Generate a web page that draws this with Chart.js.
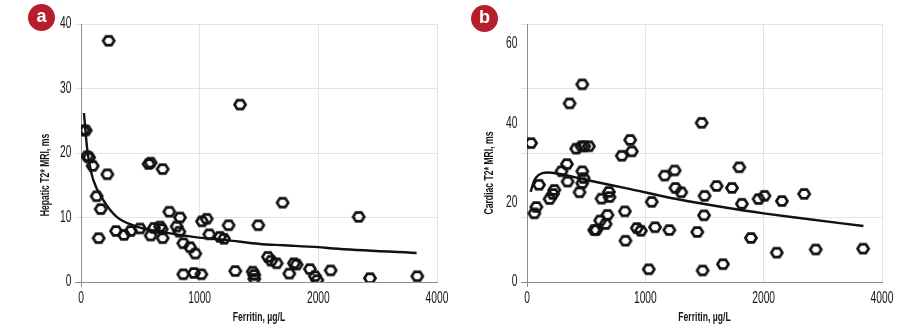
<!DOCTYPE html>
<html>
<head>
<meta charset="utf-8">
<script src="https://cdn.jsdelivr.net/npm/chart.js@4/dist/chart.umd.min.js"></script>
<style>
  html, body { margin: 0; padding: 0; background: #fff; }
  #wrap { position: relative; width: 919px; height: 330px; }
  .panel { position: absolute; top: 0; height: 330px; }
  #panelA { left: 0; width: 460px; }
  #panelB { left: 460px; width: 459px; }
  .badge {
    position: absolute; width: 27px; height: 27px; border-radius: 50%;
    background: #b61e2c; color: #fff; text-align: center;
    font: bold 18px 'Liberation Sans Narrow', 'Liberation Sans', sans-serif;
    line-height: 25px;
  }
</style>
</head>
<body>
<div id="wrap">
  <div class="panel" id="panelA"><canvas id="hepatic"></canvas></div>
  <div class="panel" id="panelB"><canvas id="cardiac"></canvas></div>
  <div class="badge" style="left:28px;top:4px;">a</div>
  <div class="badge" style="left:471px;top:5px;">b</div>
</div>
<script>
// Ferritin axis: 0..2000 linear, 2000..4000 drawn at half scale
const ferritinTicks = [0, 1000, 2000, 4000];

// (a) hepatic T2* vs ferritin
const hepaticFerritin = [233, 1340, 20, 40, 53, 68, 98, 222, 132, 166, 149, 570, 587, 688, 744, 834,
  295, 362, 419, 497, 587, 615, 666, 680, 688, 806, 829, 862, 919, 963, 862, 952, 1014, 1020, 1059,
  1081, 1171, 1205, 1244, 1300, 1447, 1460, 1460, 1494, 1575, 1603, 1649, 1699, 1755, 1794, 1817,
  1929, 1971, 1991, 2208, 2680, 2870, 3668];
const hepaticT2 = [37.4, 27.5, 23.5, 23.5, 19.5, 19.3, 18.0, 16.7, 13.3, 11.3, 6.8, 18.3, 18.5, 17.5, 10.9, 10.0,
  7.9, 7.3, 7.9, 8.3, 7.2, 8.4, 8.6, 8.2, 6.8, 8.6, 7.8, 6.0, 5.4, 4.4, 1.2, 1.4, 1.2, 9.4, 9.8,
  7.4, 7.0, 6.7, 8.8, 1.7, 1.6, 1.1, 0.5, 8.8, 3.9, 3.3, 2.9, 12.3, 1.3, 2.9, 2.7,
  2.0, 0.9, 0.3, 1.8, 10.1, 0.6, 0.9];
const hepaticFitFerritin = [25, 50, 65, 104, 188, 301, 469, 666, 946, 1227, 1508, 1705, 2000, 2252, 3656];
const hepaticFitT2 = [26.2, 21.0, 19.0, 15.8, 12.7, 10.1, 8.6, 7.8, 7.0, 6.5, 5.9, 5.7, 5.4, 5.2, 4.5];
const hepaticTicks = [0, 10, 20, 30, 40];

// (b) cardiac T2* vs ferritin
const cardiacFerritin = [467, 360, 1476, 34, 416, 461, 484, 523, 872, 886, 801, 337, 292, 343, 467, 478,
  467, 444, 101, 79, 62, 231, 219, 191, 692, 697, 630, 680, 664, 618, 568, 585, 827, 832, 928, 962,
  1054, 1082, 1029, 1164, 1248, 1254, 1304, 1203, 1439, 1501, 1496, 1484, 1602, 1656, 1732, 1794,
  1816, 1892, 1957, 2014, 2308, 2222, 2684, 2880, 3680];
const cardiacT2 = [49.8, 45.0, 40.1, 35.0, 33.6, 34.2, 34.2, 34.2, 35.8, 32.9, 31.8, 29.7, 27.9, 25.3, 27.9, 26.2,
  24.9, 22.6, 24.5, 18.9, 17.3, 23.2, 22.2, 20.9, 22.7, 21.4, 21.0, 16.9, 14.6, 15.5, 13.1, 13.1, 17.8, 10.4, 13.6, 12.9,
  20.2, 13.8, 3.2, 26.8, 28.1, 23.7, 22.6, 13.1, 12.6, 21.7, 16.8, 2.9, 24.2, 4.5, 23.7, 28.9,
  19.7, 11.1, 20.9, 21.7, 20.4, 7.4, 22.2, 8.2, 8.4];
const cardiacFitFerritin = [31, 60, 100, 166, 279, 504, 843, 1265, 1688, 2000, 2502, 3686];
const cardiacFitT2 = [22.7, 25.5, 27.0, 27.6, 27.2, 25.7, 23.6, 20.9, 18.7, 17.3, 16.3, 14.1];
const cardiacTicks = [0, 20, 40, 60];
const cardiacGridValues = [16.25, 32.5, 48.75, 65];

const FONT = "'Liberation Sans Narrow', 'Liberation Sans', Arial, sans-serif";
const INK = '#161616';
const GRID = '#e4e4e4';
const AXIS = '#8c8c8c';
const NARROW = 0.64; // horizontal squeeze for the condensed lettering

// linear scale with the upper segment squeezed
const BREAK = 2000;
class BrokenLinearScale extends Chart.LinearScale {
  squeeze(v) { return v <= BREAK ? v : BREAK + (v - BREAK) / 2; }
  getPixelForValue(v) {
    const lo = this.squeeze(this.min), hi = this.squeeze(this.max);
    return this.getPixelForDecimal((this.squeeze(v) - lo) / (hi - lo));
  }
  getValueForPixel(p) {
    const lo = this.squeeze(this.min), hi = this.squeeze(this.max);
    const c = lo + this.getDecimalForPixel(p) * (hi - lo);
    return c <= BREAK ? c : BREAK + (c - BREAK) * 2;
  }
}
BrokenLinearScale.id = 'brokenLinear';
Chart.register(BrokenLinearScale);

// open hexagon marker
function hexMarker() {
  const c = document.createElement('canvas');
  c.width = 16; c.height = 16;
  const g = c.getContext('2d');
  g.beginPath();
  for (let i = 0; i < 6; i++) {
    const a = Math.PI / 3 * i;
    const px = 8 + 5.6 * Math.cos(a), py = 8 + 5.0 * Math.sin(a);
    if (i === 0) g.moveTo(px, py); else g.lineTo(px, py);
  }
  g.closePath();
  g.lineWidth = 2.6;
  g.strokeStyle = '#111';
  g.stroke();
  return c;
}
const marker = hexMarker();

function narrowText(ctx, text, x, y, angle) {
  ctx.save();
  ctx.translate(x, y);
  if (angle) ctx.rotate(angle);
  ctx.scale(NARROW, 1);
  ctx.fillText(text, 0, 0);
  ctx.restore();
}

// tick labels and axis titles in condensed lettering
const condensedLabels = {
  id: 'condensedLabels',
  afterDraw(chart, args, opts) {
    const ctx = chart.ctx;
    const area = chart.chartArea;
    const xs = chart.scales.x, ys = chart.scales.y;
    ctx.save();
    ctx.fillStyle = INK;
    ctx.textBaseline = 'middle';

    ctx.font = '16px ' + FONT;
    ctx.textAlign = 'center';
    xs.ticks.forEach((t, i) => narrowText(ctx, String(t.value), xs.getPixelForTick(i), 298.5));
    ctx.textAlign = 'right';
    ys.ticks.forEach((t, i) => {
      if (opts.yLabels.includes(t.value)) narrowText(ctx, String(t.value), area.left - 9.5, ys.getPixelForTick(i));
    });

    ctx.font = 'bold 13.5px ' + FONT;
    ctx.textAlign = 'center';
    narrowText(ctx, opts.xTitle, (area.left + area.right) / 2, 317);
    narrowText(ctx, opts.yTitle, opts.yTitleX, opts.yTitleY, -Math.PI / 2);
    ctx.restore();
  }
};

function points(xs, ys) {
  return xs.map((x, i) => ({ x: x, y: ys[i] }));
}

function makeChart(id, cfg) {
  return new Chart(document.getElementById(id), {
    type: 'scatter',
    data: {
      datasets: [
        {
          data: points(cfg.xs, cfg.ys),
          pointStyle: marker,
          pointRadius: 6,
          pointHoverRadius: 6
        },
        {
          type: 'line',
          data: points(cfg.fitX, cfg.fitY),
          borderColor: '#111',
          borderWidth: 2.4,
          pointRadius: 0,
          fill: false,
          cubicInterpolationMode: 'monotone'
        }
      ]
    },
    options: {
      responsive: true,
      maintainAspectRatio: false,
      animation: false,
      events: [],
      layout: { padding: { left: 0, right: cfg.padRight, top: 24, bottom: 0 } },
      plugins: {
        legend: { display: false },
        tooltip: { enabled: false },
        condensedLabels: {
          xTitle: 'Ferritin, \u00b5g/L', yTitle: cfg.yTitle,
          yTitleX: cfg.yTitleX, yTitleY: cfg.yTitleY, yLabels: cfg.yLabels
        }
      },
      scales: {
        x: {
          type: 'brokenLinear',
          min: 0,
          max: 4000,
          afterBuildTicks: s => { s.ticks = ferritinTicks.map(v => ({ value: v })); },
          afterFit: s => { s.height = 48; },
          ticks: { display: false },
          grid: {
            color: c => (c.tick && c.tick.value === 0) ? 'rgba(0,0,0,0)' : GRID,
            tickColor: c => (c.tick && c.tick.value === 0) ? AXIS : 'rgba(0,0,0,0)',
            tickLength: 5
          },
          border: { color: AXIS, width: 1 }
        },
        y: {
          min: 0,
          max: cfg.yMax,
          afterBuildTicks: s => { s.ticks = cfg.yTickValues.map(v => ({ value: v })); },
          afterFit: s => { s.width = cfg.yWidth; },
          ticks: { display: false },
          grid: {
            color: c => (c.tick && cfg.yGrid.includes(c.tick.value)) ? GRID : 'rgba(0,0,0,0)',
            tickColor: c => {
              if (!c.tick) return 'rgba(0,0,0,0)';
              if (c.tick.value === 0) return AXIS;
              return cfg.yGrid.includes(c.tick.value) ? GRID : 'rgba(0,0,0,0)';
            },
            tickLength: 6
          },
          border: { color: AXIS, width: 1 }
        }
      }
    },
    plugins: [condensedLabels]
  });
}

makeChart('hepatic', {
  xs: hepaticFerritin, ys: hepaticT2, fitX: hepaticFitFerritin, fitY: hepaticFitT2,
  yMax: 40, yTickValues: hepaticTicks, yLabels: hepaticTicks, yGrid: hepaticTicks.slice(1),
  yWidth: 81, padRight: 23,
  yTitle: 'Hepatic T2* MRI, ms', yTitleX: 45, yTitleY: 175
});

makeChart('cardiac', {
  xs: cardiacFerritin, ys: cardiacT2, fitX: cardiacFitFerritin, fitY: cardiacFitT2,
  yMax: 65, yTickValues: [...cardiacTicks, ...cardiacGridValues].sort((a, b) => a - b),
  yLabels: cardiacTicks, yGrid: cardiacGridValues,
  yWidth: 67, padRight: 37,
  yTitle: 'Cardiac T2* MRI, ms', yTitleX: 29, yTitleY: 173
});
</script>
</body>
</html>
